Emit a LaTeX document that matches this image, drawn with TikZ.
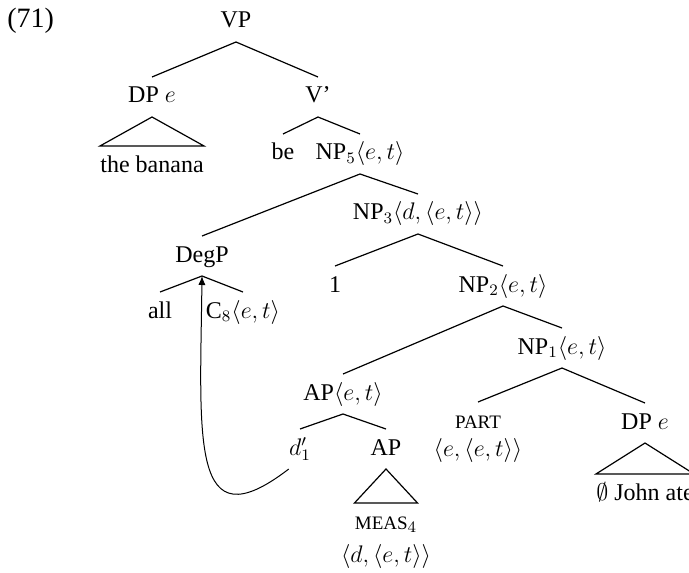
\documentclass[tikz,border=0pt]{standalone}
\usepackage{amsmath, amssymb}
\usepackage{fontspec}
\setmainfont{Liberation Serif}
\usepackage{tikz}
\usetikzlibrary{arrows.meta}

\newcommand{\fakesc}[1]{{\fontsize{9.5}{11}\selectfont #1}}

\begin{document}
\begin{tikzpicture}[x=0.5pt, y=-0.5pt, font=\fontsize{12}{14}\selectfont,
    lab/.style={anchor=base, inner xsep=0pt, inner ysep=4.3pt, text height=8.5pt, text depth=2.5pt},
    branch/.style={line width=0.6pt}]
    \useasboundingbox (0, 0) rectangle (689, 572);

    \node[lab, anchor=base west, font=\fontsize{14}{16}\selectfont] at (7, 28) (ex) {(71)};
    \node[lab] at (236, 28) (root) {VP};
    \node[lab] at (152, 103) (L1N1) {DP $e$};
    \node[lab] at (318, 103) (L1N2) {V'};
    \node[lab] at (152, 172) (L2N1) {the banana};
    \node[lab] at (283, 160) (L2N2) {be};
    \node[lab] at (360, 160) (L2N3) {NP$_5\langle e,t\rangle$};
    \node[lab] at (202, 262) (L3N1) {DegP};
    \node[lab] at (418, 220) (L3N2) {NP$_3\langle d,\langle e,t\rangle\rangle$};
    \node[lab] at (160, 318) (L4N1) {all};
    \node[lab] at (243, 318) (L4N2) {C$_8\langle e,t\rangle$};
    \node[lab] at (335, 292) (L4N3) {1};
    \node[lab] at (503, 292) (L4N4) {NP$_2\langle e,t\rangle$};
    \node[lab] at (343, 400) (L5N1) {AP$\langle e,t\rangle$};
    \node[lab] at (562, 354) (L5N2) {NP$_1\langle e,t\rangle$};
    \node[lab] at (300, 455) (L6N1) {$d'_1$};
    \node[lab] at (386, 455) (L6N2) {AP};
    \node[lab] at (478, 428) (L6N3) {\fakesc{PART}};
    \node[lab] at (478, 456) (L6N3t) {$\langle e,\langle e,t\rangle\rangle$};
    \node[lab] at (645, 429) (L6N4) {DP $e$};
    \node[lab] at (386, 529) (L7N1) {\fakesc{MEAS}$_4$};
    \node[lab] at (386, 562) (L7N1t) {$\langle d,\langle e,t\rangle\rangle$};
    \node[lab] at (645, 500) (L7N2) {$\emptyset$ John ate};

    \draw[branch] (root.south) -- (L1N1.north);
    \draw[branch] (root.south) -- (L1N2.north);
    \draw[branch] (L1N1.south) -- (L2N1.north west) -- (L2N1.north east) -- cycle;
    \draw[branch] (L1N2.south) -- (L2N2.north);
    \draw[branch] (L1N2.south) -- (L2N3.north);
    \draw[branch] (L2N3.south) -- (L3N1.north);
    \draw[branch] (L2N3.south) -- (L3N2.north);
    \draw[branch] (L3N1.south) -- (L4N1.north);
    \draw[branch] (L3N1.south) -- (L4N2.north);
    \draw[branch] (L3N2.south) -- (L4N3.north);
    \draw[branch] (L3N2.south) -- (L4N4.north);
    \draw[branch] (L4N4.south) -- (L5N1.north);
    \draw[branch] (L4N4.south) -- (L5N2.north);
    \draw[branch] (L5N1.south) -- (L6N1.north);
    \draw[branch] (L5N1.south) -- (L6N2.north);
    \draw[branch] (L5N2.south) -- (L6N3.north);
    \draw[branch] (L5N2.south) -- (L6N4.north);
    \draw[branch] (L6N2.south) -- (L7N1.north west) -- (L7N1.north east) -- cycle;
    \draw[branch] (L6N4.south) -- (L7N2.north west) -- (L7N2.north east) -- cycle;

    \draw[line width=0.5pt, -{Latex[length=4.5pt, width=3.6pt]}] (L6N1.south west) .. controls (190, 545) and (200, 440) .. (L3N1.south);
\end{tikzpicture}
\end{document}
